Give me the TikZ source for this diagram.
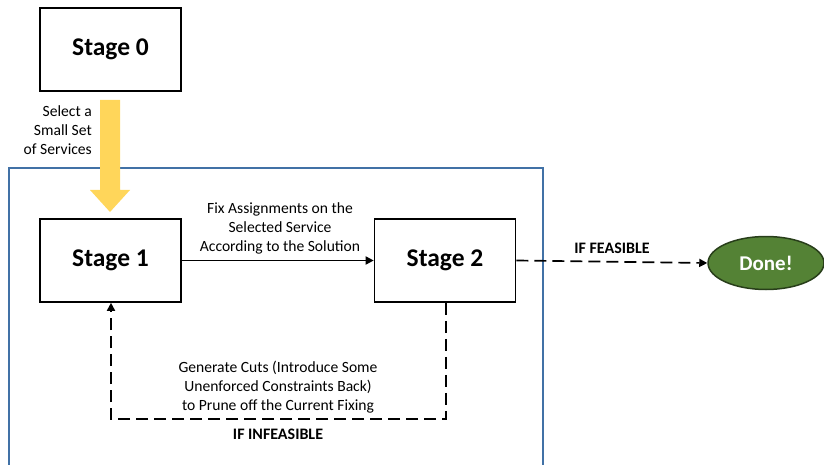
\documentclass[tikz,border=0pt]{standalone}
\usepackage{fontspec}
\setmainfont{Carlito}
\usetikzlibrary{arrows.meta,shapes.geometric}
\definecolor{frameblue}{RGB}{65,113,166}
\definecolor{arrowyellow}{RGB}{255,214,90}
\definecolor{donegreen}{RGB}{84,130,53}
\definecolor{donedark}{RGB}{40,62,26}
\tikzset{
  stagebox/.style={draw=black, line width=1.6pt, fill=white, minimum width=141pt, minimum height=83pt, inner sep=0pt, font=\fontsize{25.5}{28}\selectfont\bfseries},
  lbl/.style={inner sep=0pt, align=center, font=\fontsize{15.6}{19}\selectfont},
  boldlbl/.style={inner sep=0pt, font=\fontsize{16}{18}\selectfont\bfseries},
  conn/.style={line width=1.7pt, -{Triangle[length=8pt,width=8pt]}},
  dconn/.style={conn, dash pattern=on 12pt off 6pt},
}
\begin{document}
\begin{tikzpicture}[x=1pt,y=-1pt]
\useasboundingbox (0,0) rectangle (824,465);
\clip (0,0) rectangle (824,465);
% blue frame
\draw[frameblue, line width=2.2pt] (9,168) rectangle (543,480);
% yellow arrow
\fill[arrowyellow] (100,100) -- (120,100) -- (120,190) -- (130,190) -- (110,212) -- (90,190) -- (100,190) -- cycle;
% stages
\node[stagebox] (s0) at (110.5,49.5) {Stage 0};
\node[stagebox] (s1) at (110.5,260.5) {Stage 1};
\node[stagebox] (s2) at (445,260.5) {Stage 2};
\node[ellipse, draw=donedark, line width=1.5pt, fill=donegreen, minimum width=116pt, minimum height=53pt, inner sep=0pt, text=white, font=\fontsize{21}{24}\selectfont\bfseries] (done) at (766,263) {Done!};
% labels
\node[lbl, align=right, anchor=east] (sel) at (92,130) {Select a\\Small Set\\of Services};
\node[lbl] (fix) at (280,228) {Fix Assignments on the\\Selected Service\\According to the Solution};
\node[lbl] (gen) at (278,387) {Generate Cuts (Introduce Some\\Unenforced Constraints Back)\\to Prune off the Current Fixing};
\node[boldlbl] (inf) at (278,434) {IF INFEASIBLE};
\node[boldlbl] (fea) at (612,248) {IF FEASIBLE};
% connectors
\draw[conn] (s1.east) -- (s2.west);
\draw[dconn] (s2.east) -- (done.west);
\coordinate (c2) at (446,419);
\coordinate (c1) at (111,419);
\draw[dconn] (s2.south -| c2) -- (c2) -- (c1) -- (s1.south -| c1);
\end{tikzpicture}
\end{document}
